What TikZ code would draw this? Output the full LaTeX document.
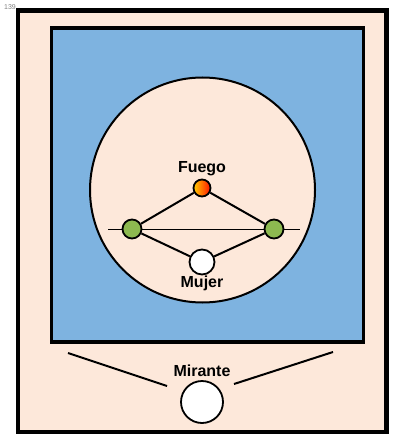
\documentclass[tikz,border=0pt]{standalone}
\usepackage{fontspec}
\setmainfont{Liberation Sans}
\definecolor{salmon}{RGB}{253,232,218}
\definecolor{celeste}{RGB}{126,179,224}
\definecolor{verde}{RGB}{141,185,80}
\begin{document}
\begin{tikzpicture}[x=1pt,y=-1pt,
	punto/.style={circle,draw,line width=1.8pt,inner sep=0pt,minimum size=19pt},
	rotulo/.style={font=\bfseries\fontsize{16}{16}\selectfont}]
	\useasboundingbox (0,0) rectangle (402,446);
	\node[text=gray,font=\fontsize{7}{7}\selectfont] (pag) at (10,7.5) {139};

	% sala y escena
	\draw[line width=4.5pt,fill=salmon] (18,10.5) rectangle (386.5,432);
	\draw[line width=3.5pt,fill=celeste] (51.5,28) rectangle (363.5,342);
	\draw[line width=2pt,fill=salmon] (202.5,190) circle (112.5pt);

	\coordinate (h1) at (108,229);
	\coordinate (h2) at (300,229);
	\draw[line width=1pt] (h1) -- (h2);

	\node[punto,fill=verde] (izq) at (132,229) {};
	\node[punto,fill=verde] (der) at (274,229) {};
	\node[punto,minimum size=17pt,left color=orange!40!yellow,right color=red!85!orange] (fuego) at (202,188) {};
	\node[punto,fill=white,minimum size=25pt] (mujer) at (202,262) {};
	\node[rotulo] (tfuego) at (202,169) {Fuego};
	\node[rotulo] (tmujer) at (202,283) {Mujer};

	\draw[line width=2pt] (izq) -- (fuego) -- (der) -- (mujer) -- (izq);

	% mirante
	\node[punto,fill=white,minimum size=42pt] (mirante) at (202,402) {};
	\node[rotulo] (tmirante) at (202,371) {Mirante};
	\coordinate (a1) at (68,353);
	\coordinate (a2) at (167,386);
	\coordinate (b1) at (234,384);
	\coordinate (b2) at (333,352);
	\draw[line width=2pt] (a1) -- (a2);
	\draw[line width=2pt] (b1) -- (b2);
\end{tikzpicture}
\end{document}
